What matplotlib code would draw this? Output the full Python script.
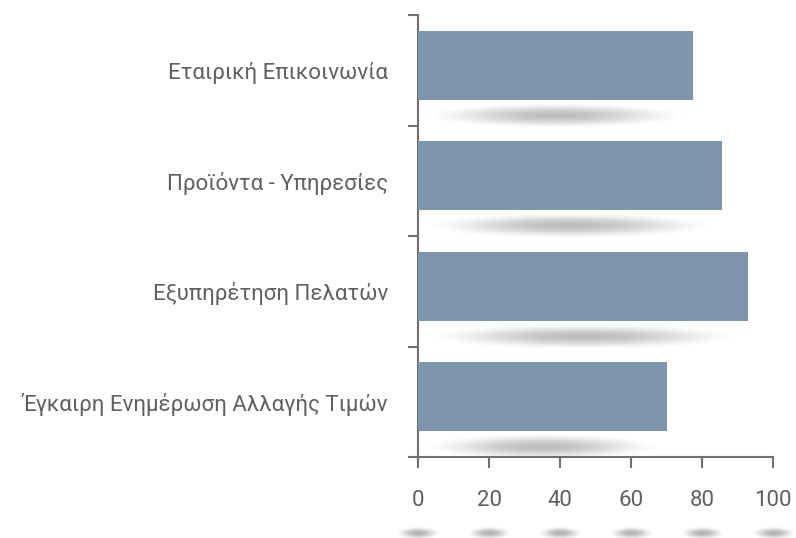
import numpy as np
import matplotlib
matplotlib.use('Agg')
import matplotlib.pyplot as plt
import matplotlib.transforms as mtransforms

plt.rcParams['font.family'] = ['Roboto', 'DejaVu Sans']

categories = ['Εταιρική Επικοινωνία', 'Προϊόντα - Υπηρεσίες',
              'Εξυπηρέτηση Πελατών', 'Έγκαιρη Ενημέρωση Αλλαγής Τιμών']
values = [77.5, 85.5, 93, 70]
xticks = [0, 20, 40, 60, 80, 100]

bar_color = '#7f95ab'
text_color = '#606060'
axis_color = '#707070'


def shadow_img(nx=240, ny=60, alpha=0.3):
    # soft elliptical shadow that fades to zero at the ellipse edge
    x = np.linspace(-1, 1, nx)
    y = np.linspace(-1, 1, ny)
    X, Y = np.meshgrid(x, y)
    r2 = X ** 2 + Y ** 2
    a = alpha * np.clip(1 - r2, 0, 1) ** 2
    img = np.zeros((ny, nx, 4))
    img[..., 3] = a
    return img


fig = plt.figure(figsize=(7.96, 5.38), dpi=100)
ax = fig.add_axes([418 / 796, 1 - 457 / 538, 355 / 796, 442 / 538])

pos = np.arange(len(categories))
ax.barh(pos - 0.045, values, height=0.625, color=bar_color, zorder=3)

# shadows under bars
for p, v in zip(pos, values):
    ax.imshow(shadow_img(alpha=0.26), extent=(0, v, p + 0.53, p + 0.29),
              aspect='auto', interpolation='bilinear', zorder=2)

# shadows under x tick labels
trans = mtransforms.blended_transform_factory(ax.transData, ax.transAxes)
for t in xticks:
    ax.imshow(shadow_img(alpha=0.3), extent=(t - 6.5, t + 6.5, -0.188, -0.158),
              aspect='auto', interpolation='bilinear', zorder=2,
              transform=trans, clip_on=False)

ax.set_xlim(0, 100)
ax.set_ylim(len(categories) - 0.5, -0.5)

# boundary ticks, labels at centers
ax.set_yticks(np.arange(len(categories) + 1) - 0.5)
ax.set_yticklabels([])
ax.set_yticks(pos, minor=True)
ax.set_yticklabels(categories, minor=True)
ax.tick_params(axis='y', which='major', length=7.5, width=1.5, color=axis_color)
ax.tick_params(axis='y', which='minor', length=0, pad=21.5,
               labelsize=16, labelcolor=text_color)

ax.set_xticks(xticks)
ax.tick_params(axis='x', length=8, width=1.5, color=axis_color, pad=16,
               labelsize=16, labelcolor=text_color)

for s in ['top', 'right']:
    ax.spines[s].set_visible(False)
for s in ['left', 'bottom']:
    ax.spines[s].set_color(axis_color)
    ax.spines[s].set_linewidth(1.5)

fig.savefig('out.png', dpi=100)
